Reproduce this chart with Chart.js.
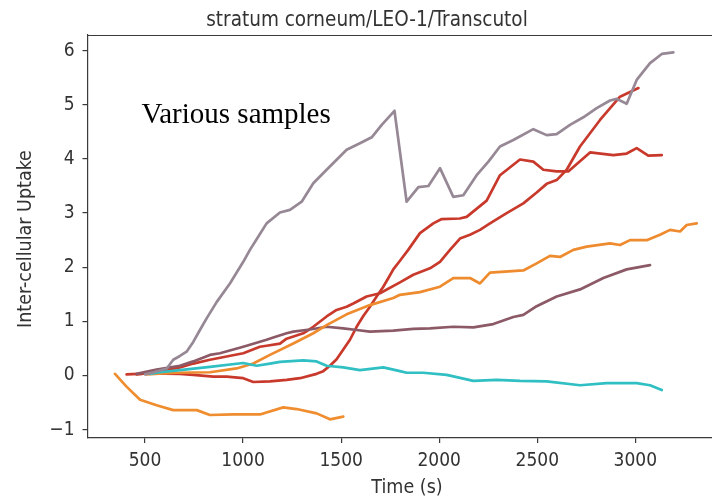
<!DOCTYPE html>
<html>
<head>
<meta charset="utf-8">
<style>
  html, body { margin: 0; padding: 0; background: #ffffff; }
  #wrap { width: 712px; height: 498px; position: relative; }
</style>
<script src="https://cdn.jsdelivr.net/npm/chart.js@4.4.1/dist/chart.umd.min.js"></script>
</head>
<body>
<div id="wrap"><canvas id="chart" width="712" height="498"></canvas></div>
<script>
// Axis ticks
const xTickValues = [500, 1000, 1500, 2000, 2500, 3000];
const yTickValues = [-1, 0, 1, 2, 3, 4, 5, 6];

// Sample traces: time (s) and inter-cellular uptake
const grayTime  = [500, 545, 611, 644, 678, 712, 746, 780, 815, 866, 933, 1001, 1035, 1070, 1120, 1188, 1239, 1299, 1358, 1426, 1528, 1596, 1656, 1707, 1772, 1834, 1894, 1945, 2004, 2072, 2123, 2191, 2251, 2310, 2378, 2480, 2548, 2599, 2667, 2735, 2803, 2871, 2905, 2956, 3007, 3075, 3135, 3194];
const grayValue = [0.02, 0.06, 0.13, 0.29, 0.36, 0.44, 0.62, 0.84, 1.06, 1.36, 1.70, 2.10, 2.32, 2.52, 2.81, 3.01, 3.06, 3.21, 3.55, 3.80, 4.17, 4.29, 4.40, 4.63, 4.89, 3.21, 3.48, 3.50, 3.83, 3.30, 3.33, 3.70, 3.95, 4.23, 4.35, 4.55, 4.44, 4.46, 4.63, 4.77, 4.94, 5.08, 5.11, 5.02, 5.46, 5.77, 5.94, 5.97];

const redATime  = [406, 525, 678, 746, 848, 916, 1001, 1052, 1137, 1222, 1290, 1375, 1409, 1443, 1477, 1511, 1545, 1579, 1613, 1647, 1681, 1715, 1741, 1766, 1800, 1842, 1902, 1970, 2013, 2105, 2140, 2242, 2310, 2412, 2480, 2531, 2599, 2658, 2769, 2888, 2956, 3007, 3066, 3135];
const redAValue = [0.02, 0.04, 0.03, 0.01, -0.02, -0.02, -0.05, -0.12, -0.11, -0.08, -0.05, 0.03, 0.08, 0.18, 0.30, 0.48, 0.66, 0.90, 1.10, 1.27, 1.46, 1.64, 1.80, 1.96, 2.12, 2.32, 2.63, 2.81, 2.89, 2.90, 2.93, 3.23, 3.70, 3.99, 3.95, 3.80, 3.77, 3.77, 4.12, 4.07, 4.10, 4.20, 4.06, 4.07];

const redBTime  = [457, 559, 678, 746, 831, 1001, 1086, 1120, 1188, 1222, 1307, 1358, 1426, 1477, 1528, 1562, 1630, 1698, 1800, 1868, 1953, 2004, 2055, 2106, 2157, 2208, 2259, 2344, 2429, 2497, 2548, 2599, 2650, 2718, 2820, 2922, 3016];
const redBValue = [0.02, 0.06, 0.15, 0.22, 0.29, 0.41, 0.53, 0.55, 0.59, 0.68, 0.78, 0.90, 1.09, 1.21, 1.27, 1.33, 1.46, 1.52, 1.72, 1.86, 1.98, 2.10, 2.32, 2.53, 2.60, 2.69, 2.81, 3.00, 3.18, 3.38, 3.54, 3.61, 3.80, 4.23, 4.72, 5.15, 5.31];

const mauveTime  = [457, 559, 678, 746, 831, 882, 1001, 1120, 1154, 1222, 1256, 1341, 1426, 1511, 1579, 1647, 1766, 1868, 1953, 2072, 2174, 2276, 2378, 2429, 2497, 2599, 2718, 2837, 2956, 3075];
const mauveValue = [0.03, 0.11, 0.18, 0.26, 0.38, 0.41, 0.53, 0.66, 0.70, 0.78, 0.81, 0.85, 0.90, 0.87, 0.84, 0.81, 0.83, 0.86, 0.87, 0.90, 0.89, 0.95, 1.08, 1.12, 1.28, 1.46, 1.59, 1.80, 1.96, 2.04];

const orangeTime  = [508, 661, 831, 967, 1052, 1137, 1256, 1358, 1426, 1528, 1647, 1766, 1800, 1902, 2004, 2072, 2157, 2208, 2259, 2429, 2497, 2565, 2616, 2684, 2752, 2871, 2922, 2973, 3058, 3126, 3177, 3228, 3262, 3313];
const orangeValue = [0.02, 0.05, 0.06, 0.13, 0.22, 0.38, 0.59, 0.78, 0.93, 1.13, 1.30, 1.43, 1.49, 1.54, 1.64, 1.80, 1.80, 1.70, 1.90, 1.94, 2.07, 2.21, 2.19, 2.32, 2.38, 2.44, 2.41, 2.50, 2.50, 2.60, 2.69, 2.66, 2.78, 2.81];

const cyanTime  = [525, 576, 678, 831, 1001, 1069, 1137, 1188, 1307, 1375, 1426, 1511, 1596, 1715, 1800, 1834, 1919, 2038, 2174, 2293, 2412, 2548, 2718, 2854, 3007, 3075, 3135];
const cyanValue = [0.03, 0.06, 0.10, 0.16, 0.23, 0.18, 0.22, 0.25, 0.28, 0.26, 0.18, 0.15, 0.10, 0.15, 0.08, 0.05, 0.05, 0.01, -0.10, -0.08, -0.10, -0.11, -0.18, -0.14, -0.14, -0.18, -0.27];

const lowOrangeTime  = [347, 407, 475, 559, 644, 764, 831, 950, 1086, 1205, 1273, 1375, 1443, 1511];
const lowOrangeValue = [0.03, -0.21, -0.45, -0.55, -0.64, -0.64, -0.73, -0.72, -0.72, -0.59, -0.62, -0.70, -0.81, -0.76];

const pairs = (xs, ys) => xs.map((x, i) => ({ x: x, y: ys[i] }));

const SANS = "'DejaVu Sans Condensed', 'DejaVu Sans', sans-serif";
const TEXT = '#333333';
const SPINE = '#3a3a3a';

function series(xs, ys, color) {
  return {
    data: pairs(xs, ys),
    borderColor: color,
    backgroundColor: color,
    borderWidth: 2.7,
    pointRadius: 0,
    tension: 0,
    borderJoinStyle: 'round',
    borderCapStyle: 'round',
    fill: false
  };
}

// Titles, the in-plot note and the top spine
const decorations = {
  id: 'decorations',
  afterDraw(chart) {
    const { ctx, chartArea } = chart;
    ctx.save();
    ctx.strokeStyle = SPINE;
    ctx.lineWidth = 1.2;
    ctx.beginPath();
    ctx.moveTo(chartArea.left, chartArea.top + 0.5);
    ctx.lineTo(chartArea.right, chartArea.top + 0.5);
    ctx.stroke();

    ctx.fillStyle = TEXT;
    ctx.textAlign = 'center';
    ctx.textBaseline = 'alphabetic';
    ctx.font = "20.5px " + SANS;
    ctx.fillText('stratum corneum/LEO-1/Transcutol', 367, 26);

    ctx.font = "19.5px " + SANS;
    ctx.fillText('Time (s)', 407, 493);

    ctx.save();
    ctx.translate(26, 239);
    ctx.rotate(-Math.PI / 2);
    ctx.textBaseline = 'middle';
    ctx.fillText('Inter-cellular Uptake', 0, 0);
    ctx.restore();

    ctx.fillStyle = '#000000';
    ctx.textAlign = 'left';
    ctx.font = "29px 'Liberation Serif', 'Times New Roman', serif";
    ctx.fillText('Various samples', 141.5, 123);
    ctx.restore();
  }
};

new Chart(document.getElementById('chart'), {
  type: 'line',
  data: {
    datasets: [
      series(grayTime, grayValue, '#978896'),
      series(cyanTime, cyanValue, '#30bfc3'),
      series(orangeTime, orangeValue, '#ee8b2e'),
      series(mauveTime, mauveValue, '#8c5a66'),
      series(redBTime, redBValue, '#c83a2c'),
      series(redATime, redAValue, '#c9392b'),
      series(lowOrangeTime, lowOrangeValue, '#ef8d2f')
    ]
  },
  options: {
    responsive: false,
    devicePixelRatio: 1,
    animation: false,
    layout: { padding: { top: 35, left: 0, right: 0, bottom: 0 } },
    plugins: {
      legend: { display: false },
      tooltip: { enabled: false },
      title: { display: false }
    },
    scales: {
      x: {
        type: 'linear',
        min: 206.8,
        max: 3391,
        afterFit(scale) { scale.height = 60; },
        afterBuildTicks(scale) { scale.ticks = xTickValues.map(v => ({ value: v })); },
        grid: { display: true, drawOnChartArea: false, drawTicks: true, tickLength: 5, color: SPINE, lineWidth: 1.2 },
        border: { display: true, color: SPINE, width: 1.2 },
        ticks: {
          color: TEXT,
          font: { family: SANS, size: 19 },
          padding: 7,
          maxRotation: 0,
          autoSkip: false,
          callback: v => String(v)
        }
      },
      y: {
        type: 'linear',
        min: -1.155,
        max: 6.29,
        afterFit(scale) { scale.width = 87.5; },
        afterBuildTicks(scale) { scale.ticks = yTickValues.map(v => ({ value: v })); },
        grid: { display: true, drawOnChartArea: false, drawTicks: true, tickLength: 5, color: SPINE, lineWidth: 1.2 },
        border: { display: true, color: SPINE, width: 1.2 },
        ticks: {
          color: TEXT,
          font: { family: SANS, size: 19 },
          padding: 8,
          autoSkip: false,
          callback: v => (v < 0 ? '\u2212' + Math.abs(v) : String(v))
        }
      }
    }
  },
  plugins: [decorations]
});
</script>
</body>
</html>
